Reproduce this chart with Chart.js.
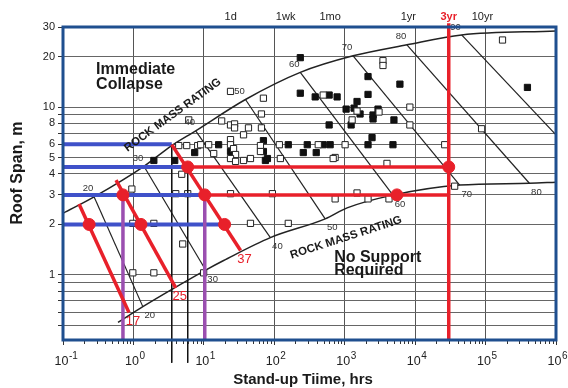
<!DOCTYPE html>
<html lang="en">
<head>
  <meta charset="UTF-8" />
  <title>Stand-up time vs roof span</title>
  <script src="https://cdn.jsdelivr.net/npm/chart.js@4"></script>
  <style>
    html, body { margin: 0; padding: 0; background: #fff; }
    #wrap { width: 568px; height: 388px; }
  </style>
</head>
<body>
  <div id="wrap"><canvas id="standUpChart" width="568" height="388"></canvas></div>

  <script>
    // values: time in hours, span in metres
    const upperHrs  = [0.1, 0.276, 1.41, 3.5, 7.66, 39, 234, 1315, 7640, 45700, 1e6];
    const upperSpan = [2.33, 2.92, 4.44, 5.9, 7.22, 11.1, 16.1, 20.2, 23.5, 26.9, 28.4];
    const lowerHrs  = [0.604, 1.36, 3.62, 10.6, 19.1, 88, 528, 1081, 4840, 42900, 419000, 1e6];
    const lowerSpan = [0.522, 0.648, 0.827, 1.07, 1.22, 1.67, 2.16, 2.51, 2.99, 3.43, 3.52, 3.57];

    const rmrRatings    = [20, 30, 40, 50, 60, 70, 80, 90];
    const rmrTopHrs     = [0.276, 1.41, 7.66, 39, 234, 1315, 7640, 45700];
    const rmrTopSpan    = [2.92, 4.44, 7.22, 11.1, 16.1, 20.2, 23.5, 26.9];
    const rmrBottomHrs  = [1.36, 10.6, 88, 528, 4840, 42900, 419000, 1e6];
    const rmrBottomSpan = [0.648, 1.07, 1.67, 2.16, 2.99, 3.43, 3.52, 6.84];

    const openHrs  = [4.4, 5.71, 8.17, 4.85, 0.95, 3.99, 5.9, 0.98, 1.95, 0.98, 1.95, 5.01, 9.93, 23.9, 94, 45.9, 158,
                      731, 2143, 4250, 1496, 36400, 3981, 731, 1013, 26300, 13.8, 45.9, 122, 686, 23.9, 70.1, 495,
                      65.7, 17.9, 23.9, 27.3, 27.3, 43, 65.7, 36.6, 6.1, 9.01, 11.7, 23.9, 23.9, 26.4, 28.2, 23.9,
                      28.2, 36.6, 63.6, 63.6, 118, 421, 3493, 3493, 8410, 1496, 3070, 1274, 8410, 174000, 87800];
    const openSpan = [5.9, 5.9, 5.9, 3.98, 3.25, 3.05, 3.05, 2.03, 2.03, 1.03, 1.03, 1.53, 1.03, 3.05, 3.05, 2.03, 2.03,
                      2.84, 2.84, 2.84, 3.08, 3.38, 4.62, 5.01, 5.97, 5.97, 5.29, 4.94, 4.94, 4.94, 12.4, 11.3, 11.8,
                      9.1, 8.27, 7.83, 7.94, 7.52, 7.52, 7.52, 6.84, 8.39, 5.97, 5.97, 6.4, 5.97, 5.66, 5.22, 4.94,
                      4.75, 4.81, 5.9, 5.44, 5.97, 5.97, 18.9, 17.7, 10, 9.47, 9.35, 8.39, 7.83, 25.1, 7.43];

    const filledHrs  = [1.95, 3.86, 7.41, 234, 234, 381, 601, 780, 601, 16.2, 23.9, 70.1, 70.1, 74.8, 158, 294, 258,
                        495, 621, 394, 25.5, 79.9, 2143, 6080, 2143, 1496, 1047, 1358, 1652, 2972, 2524, 2524, 5000,
                        1233, 2443, 2143, 4842, 393000];
    const filledSpan = [4.81, 4.81, 5.36, 19.7, 12.1, 11.5, 11.8, 11.5, 7.83, 5.97, 5.44, 6.31, 5.44, 4.81, 5.97, 5.97, 5.36,
                        5.97, 5.97, 5.36, 5.29, 4.94, 15.2, 13.7, 11.9, 10.8, 9.73, 9.86, 9.1, 9.73, 8.97, 8.5, 8.39,
                        7.83, 6.58, 5.97, 5.97, 13.1];

    // worked example drawn over the chart
    const guideSpan     = [6, 4.4, 3, 2];
    const guideReachHrs = [3.5, 5.9, 10.3, 19.7];
    const redRatings    = [17, 25, 37];
    const redTopHrs     = [0.169, 0.566, 3.5];
    const redTopSpan    = [2.65, 3.67, 5.98];
    const redBottomHrs  = [0.864, 3.99, 33.2];
    const redBottomSpan = [0.598, 0.839, 1.4];
    const redRowSpan    = [4.4, 3];
    const redRowFromHrs = [5.9, 10.3];
    const threeYearHrs  = 30000;
    const redDotHrs     = [0.235, 0.71, 1.28, 5.9, 10.3, 19.7, 30000, 5510];
    const redDotSpan    = [2, 3, 2, 4.4, 3, 2, 4.4, 3];
    const purpleHrs     = [0.71, 10.3];
    const purpleTopSpan = [3, 3];
    const markerHrs     = [3.5, 5.9];
    const markerTopSpan = [6, 4.4];

    // axes
    const xDecades   = [0.1, 1, 10, 100, 1e3, 1e4, 1e5, 1e6];
    const xExponents = [-1, 0, 1, 2, 3, 4, 5, 6];
    const yGridValues  = [0.5, 0.6, 0.7, 0.8, 0.9, 1, 2, 3, 4, 5, 6, 7, 8, 9, 10, 20, 30];
    const yLabelValues = [1, 2, 3, 4, 5, 6, 8, 10, 20, 30];
    const timeLabels = ['1d', '1wk', '1mo', '1yr', '3yr', '10yr'];
    const timeHrs    = [24, 145, 620, 8000, 30000, 90000];

    const zoneText = ['Immediate', 'Collapse', 'No Support', 'Required'];
    const zoneHrs  = [0.295, 0.295, 708, 708];
    const zoneSpan = [16.7, 13.65, 1.276, 1.056];
    const bandHrs  = [3.62, 1047];
    const bandSpan = [8.97, 1.67];

    const RED = '#e8202a', BLUE = '#3f51c9', PURPLE = '#9b4fb0', FONT = '"Liberation Sans", Arial, sans-serif';

    const pts = (xs, ys) => xs.map((v, i) => ({ x: v, y: ys[i] }));
    function lineSet(data, color, width, order, extra) {
      return Object.assign({ data, showLine: true, borderColor: color, borderWidth: width,
        pointRadius: 0, fill: false, order }, extra || {});
    }

    const datasets = [];
    datasets.push({ data: pts(redDotHrs, redDotSpan), pointRadius: 6, pointBackgroundColor: RED,
      pointBorderColor: RED, order: 0, clip: false });
    redRatings.forEach((r, i) => datasets.push(lineSet(
      [{ x: redTopHrs[i], y: redTopSpan[i] }, { x: redBottomHrs[i], y: redBottomSpan[i] }], RED, 3.5, 1)));
    redRowSpan.forEach((s, i) => datasets.push(lineSet(
      [{ x: redRowFromHrs[i], y: s }, { x: threeYearHrs, y: s }], RED, 3.5, 1)));
    datasets.push(lineSet([{ x: threeYearHrs, y: 0.41 }, { x: threeYearHrs, y: 31.6 }], RED, 3.5, 1, { clip: false }));
    purpleHrs.forEach((h, i) => datasets.push(lineSet(
      [{ x: h, y: purpleTopSpan[i] }, { x: h, y: 0.405 }], PURPLE, 3.5, 2, { clip: false })));
    guideSpan.forEach((s, i) => datasets.push(lineSet(
      [{ x: 0.098, y: s }, { x: guideReachHrs[i], y: s }], BLUE, 4, 3, { clip: false })));
    markerHrs.forEach((h, i) => datasets.push(lineSet(
      [{ x: h, y: markerTopSpan[i] }, { x: h, y: 0.3 }], '#111', 1, 4, { clip: false })));
    datasets.push({ data: pts(openHrs, openSpan), pointStyle: 'rect', pointRadius: 4.4,
      pointBackgroundColor: '#fff', pointBorderColor: '#222', pointBorderWidth: 1, order: 5 });
    datasets.push({ data: pts(filledHrs, filledSpan), pointStyle: 'rect', pointRadius: 4.4,
      pointBackgroundColor: '#111', pointBorderColor: '#111', pointBorderWidth: 1, order: 5 });
    rmrRatings.forEach((r, i) => datasets.push(lineSet(
      [{ x: rmrTopHrs[i], y: rmrTopSpan[i] }, { x: rmrBottomHrs[i], y: rmrBottomSpan[i] }], '#222', 1.2, 6)));
    datasets.push(lineSet(pts(upperHrs, upperSpan), '#222', 1.5, 6, { cubicInterpolationMode: 'monotone' }));
    datasets.push(lineSet(pts(lowerHrs, lowerSpan), '#222', 1.5, 6, { cubicInterpolationMode: 'monotone' }));

    function rotText(ctx, text, cx, cy, deg) {
      ctx.save();
      ctx.translate(cx, cy);
      ctx.rotate(deg * Math.PI / 180);
      ctx.fillText(text, 0, 0);
      ctx.restore();
    }

    const overlay = {
      id: 'overlay',
      afterDatasetsDraw(chart) {
        const { ctx, chartArea: a, scales: { x, y } } = chart;
        ctx.save();

        // minor ticks under the time axis
        ctx.strokeStyle = '#333';
        ctx.lineWidth = 1;
        for (let e = -1; e < 6; e++) {
          for (let k = 2; k < 10; k++) {
            const xx = Math.round(x.getPixelForValue(k * Math.pow(10, e))) + 0.5;
            ctx.beginPath(); ctx.moveTo(xx, a.bottom); ctx.lineTo(xx, a.bottom + 4); ctx.stroke();
          }
        }

        // time axis labels 10^n
        ctx.fillStyle = '#222';
        ctx.textBaseline = 'middle';
        xDecades.forEach((v, i) => {
          const xx = x.getPixelForValue(v);
          ctx.font = '12.5px ' + FONT;
          ctx.textAlign = 'center';
          ctx.fillText('10', xx - 1.5, 362);
          ctx.font = '10px ' + FONT;
          ctx.textAlign = 'left';
          ctx.fillText(String(xExponents[i]), xx + 6, 356);
        });

        // time marks along the top
        ctx.textAlign = 'center';
        timeLabels.forEach((t, i) => {
          const red = t === '3yr';
          ctx.font = (red ? 'bold ' : '') + '11px ' + FONT;
          ctx.fillStyle = red ? RED : '#222';
          ctx.fillText(t, x.getPixelForValue(timeHrs[i]), 17);
        });

        // zone texts
        ctx.fillStyle = '#1a1a1a';
        ctx.textAlign = 'left';
        ctx.font = 'bold 16px ' + FONT;
        zoneText.forEach((t, i) => ctx.fillText(t, x.getPixelForValue(zoneHrs[i]), y.getPixelForValue(zoneSpan[i])));

        ctx.textAlign = 'center';
        ctx.font = 'bold 11.5px ' + FONT;
        rotText(ctx, 'ROCK MASS RATING', x.getPixelForValue(bandHrs[0]), y.getPixelForValue(bandSpan[0]), -36);
        rotText(ctx, 'ROCK MASS RATING', x.getPixelForValue(bandHrs[1]), y.getPixelForValue(bandSpan[1]), -18);

        // rating numbers on the two envelopes
        ctx.font = '9.5px ' + FONT;
        ctx.fillStyle = '#333';
        rmrRatings.forEach((r, i) => {
          ctx.fillText(String(r), x.getPixelForValue(rmrTopHrs[i]) - 6, y.getPixelForValue(rmrTopSpan[i]) - 8);
          if (rmrBottomHrs[i] < 1e6) {
            ctx.fillText(String(r), x.getPixelForValue(rmrBottomHrs[i]) + 7, y.getPixelForValue(rmrBottomSpan[i]) + 9);
          }
        });

        // red example ratings
        ctx.font = '13px ' + FONT;
        ctx.fillStyle = RED;
        redRatings.forEach((r, i) => {
          ctx.fillText(String(r), x.getPixelForValue(redBottomHrs[i]) + 4, y.getPixelForValue(redBottomSpan[i]) + 9);
        });

        // axis titles
        ctx.fillStyle = '#1a1a1a';
        ctx.font = 'bold 15px ' + FONT;
        ctx.fillText('Stand-up Tiime, hrs', 303, 380);
        ctx.font = 'bold 16px ' + FONT;
        rotText(ctx, 'Roof Span, m', 18, 173, -90);

        // frame
        ctx.strokeStyle = '#1f4f8f';
        ctx.lineWidth = 3;
        ctx.strokeRect(a.left, a.top, a.right - a.left, a.bottom - a.top);
        ctx.restore();
      }
    };

    Chart.defaults.font.family = FONT;

    new Chart(document.getElementById('standUpChart'), {
      type: 'scatter',
      data: { datasets },
      options: {
        responsive: false,
        animation: false,
        events: [],
        layout: { padding: { top: 27, right: 12, left: 0, bottom: 0 } },
        plugins: { legend: { display: false }, tooltip: { enabled: false } },
        scales: {
          x: {
            type: 'logarithmic',
            min: 0.1,
            max: 1e6,
            afterBuildTicks: s => { s.ticks = xDecades.map(v => ({ value: v })); },
            afterFit: s => { s.height = 48; },
            ticks: { display: false },
            grid: { color: '#555', lineWidth: 1, tickLength: 5, tickColor: '#333' },
            border: { display: false }
          },
          y: {
            type: 'logarithmic',
            min: 0.41,
            max: 30,
            afterBuildTicks: s => { s.ticks = yGridValues.map(v => ({ value: v })); },
            afterFit: s => { s.width = 63; },
            ticks: {
              autoSkip: false,
              padding: 3,
              color: '#222',
              font: { size: 11 },
              callback: v => yLabelValues.includes(v) ? String(v) : ''
            },
            grid: { color: '#666', lineWidth: 1, tickLength: 5, tickColor: '#333' },
            border: { display: false }
          }
        }
      },
      plugins: [overlay]
    });
  </script>
</body>
</html>
